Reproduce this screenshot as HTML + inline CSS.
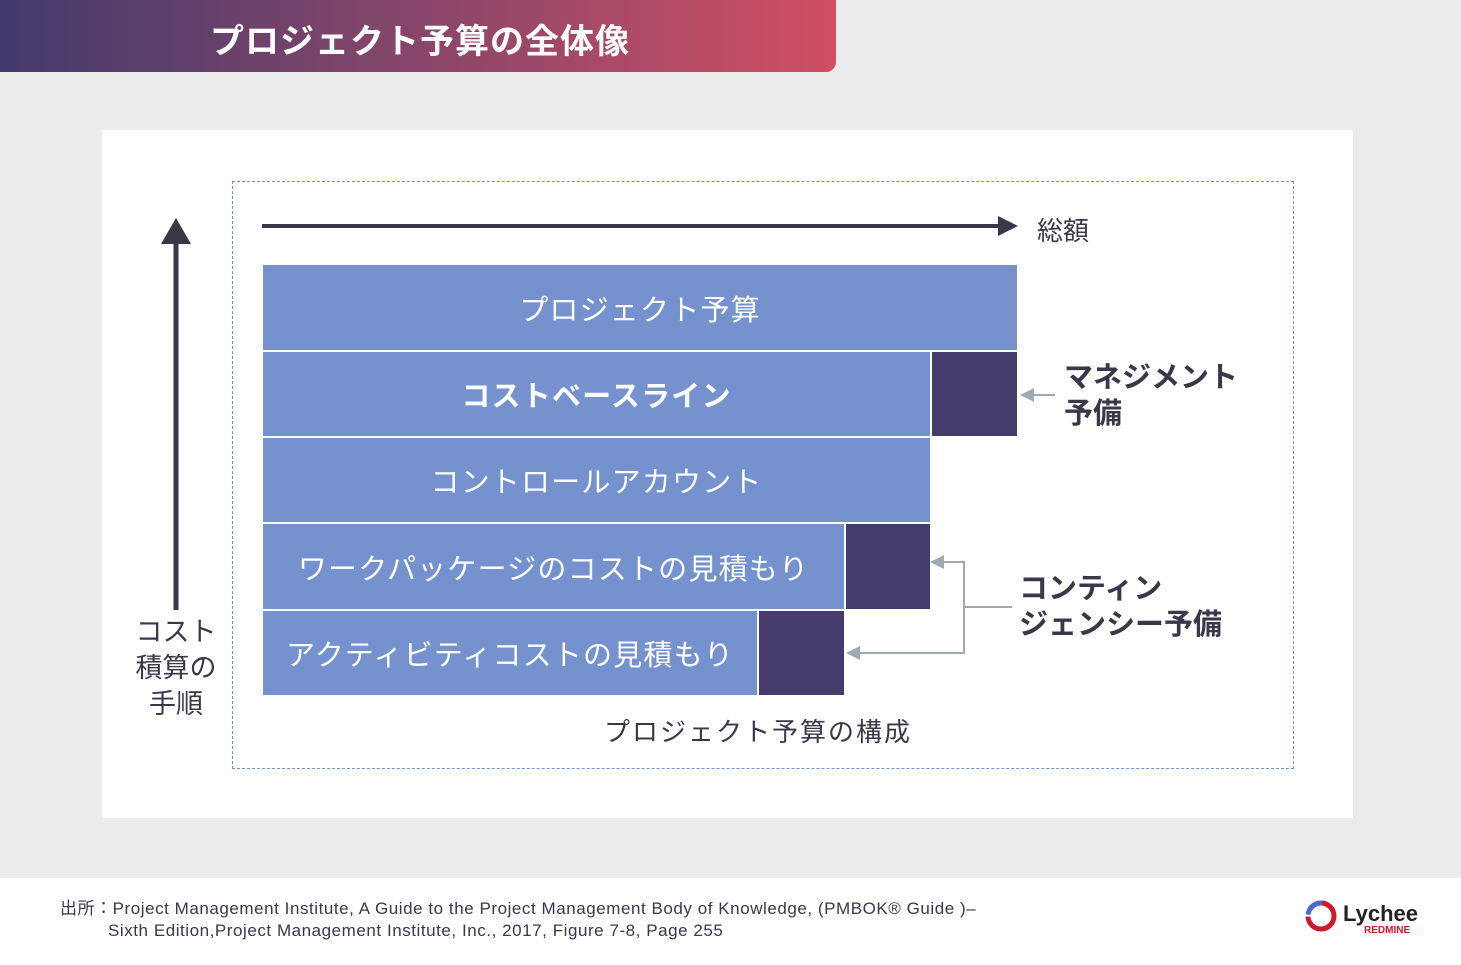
<!DOCTYPE html><html><head><meta charset="utf-8"><style>
body{margin:0;width:1461px;height:965px;background:#fff;position:relative;overflow:hidden;font-family:"Liberation Sans","Noto Sans CJK JP",sans-serif}
.a{position:absolute}
.bar{position:absolute;background:#7592cf;color:#fff;font-size:29px;display:flex;align-items:center;justify-content:center;letter-spacing:1.2px}
.dk{position:absolute;background:#453c6b}
</style></head><body>
<div class="a" style="left:0;top:0;width:1461px;height:878px;background:#ebebeb"></div>
<div class="a" style="left:0;top:0;width:836px;height:72px;border-bottom-right-radius:10px;background:linear-gradient(90deg,#413a6c,#7a446b 40%,#d04f62)"></div>
<div class="a" style="left:210px;top:14px;color:#fff;font-size:34px;font-weight:bold;letter-spacing:1px">プロジェクト予算の全体像</div>
<div class="a" style="left:102px;top:130px;width:1251px;height:688px;background:#fff"></div>
<div class="a" style="left:232px;top:181px;width:1060px;height:586px;border:1.5px dashed #7a8fd0"></div>
<svg class="a" style="left:0;top:0" width="1461" height="878">
<line x1="176" y1="240" x2="176" y2="610" stroke="#3a3848" stroke-width="5"/>
<polygon points="161,244 191,244 176,218" fill="#3a3848"/>
<line x1="262" y1="226" x2="1000" y2="226" stroke="#3a3848" stroke-width="4"/>
<polygon points="998,216 998,236 1018,226" fill="#3a3848"/>
<g stroke="#a0a8b4" stroke-width="2" fill="none">
<line x1="1032" y1="395" x2="1055" y2="395"/>
<polyline points="940,562 964,562 964,653 856,653"/>
<line x1="964" y1="607" x2="1012" y2="607"/>
</g>
<g fill="#a0a8b4"><polygon points="1020,395 1034,388 1034,402"/><polygon points="930,562 944,555 944,569"/><polygon points="846,653 860,646 860,660"/></g>
</svg>
<div class="a" style="left:1037px;top:211px;font-size:26px;color:#3a3848">総額</div>
<div class="bar" style="left:263px;top:265px;width:754px;height:85px">プロジェクト予算</div>
<div class="bar" style="left:263px;top:352px;width:667px;height:84px;font-weight:bold">コストベースライン</div>
<div class="dk" style="left:932px;top:352px;width:85px;height:84px"></div>
<div class="bar" style="left:263px;top:438px;width:667px;height:84px">コントロールアカウント</div>
<div class="bar" style="left:263px;top:524px;width:581px;height:85px">ワークパッケージのコストの見積もり</div>
<div class="dk" style="left:846px;top:524px;width:84px;height:85px"></div>
<div class="bar" style="left:263px;top:611px;width:494px;height:84px">アクティビティコストの見積もり</div>
<div class="dk" style="left:759px;top:611px;width:85px;height:84px"></div>
<div class="a" style="left:1064px;top:360px;font-size:29px;font-weight:bold;color:#3a3848;line-height:36px">マネジメント<br>予備</div>
<div class="a" style="left:1019px;top:571px;font-size:29px;font-weight:bold;color:#3a3848;line-height:36px">コンティン<br>ジェンシー予備</div>
<div class="a" style="left:130px;top:614px;width:92px;text-align:center;font-size:27px;color:#3a3848;line-height:36px">コスト<br>積算の<br>手順</div>
<div class="a" style="left:604px;top:712px;font-size:26px;color:#3a3848;letter-spacing:2px">プロジェクト予算の構成</div>
<div class="a" style="left:60px;top:898px;font-size:17px;color:#3a3848;line-height:22px;letter-spacing:0.55px">出所：Project Management Institute, A Guide to the Project Management Body of Knowledge, (PMBOK® Guide )–<br><span style="padding-left:48px">Sixth Edition,Project Management Institute, Inc., 2017, Figure 7-8, Page 255</span></div>
<svg class="a" style="left:1304px;top:899px" width="36" height="36"><circle cx="17" cy="17" r="13" fill="none" stroke="#d0182c" stroke-width="5" stroke-dasharray="40 8"/><circle cx="17" cy="17" r="13" fill="none" stroke="#4a6ad0" stroke-width="5" stroke-dasharray="0 42 20 100"/></svg>
<div class="a" style="left:1343px;top:901px;font-size:22px;font-weight:bold;color:#222">Lychee</div>
<div class="a" style="left:1364px;top:925px;font-size:10px;font-weight:bold;color:#d0182c">REDMINE</div>
</body></html>
